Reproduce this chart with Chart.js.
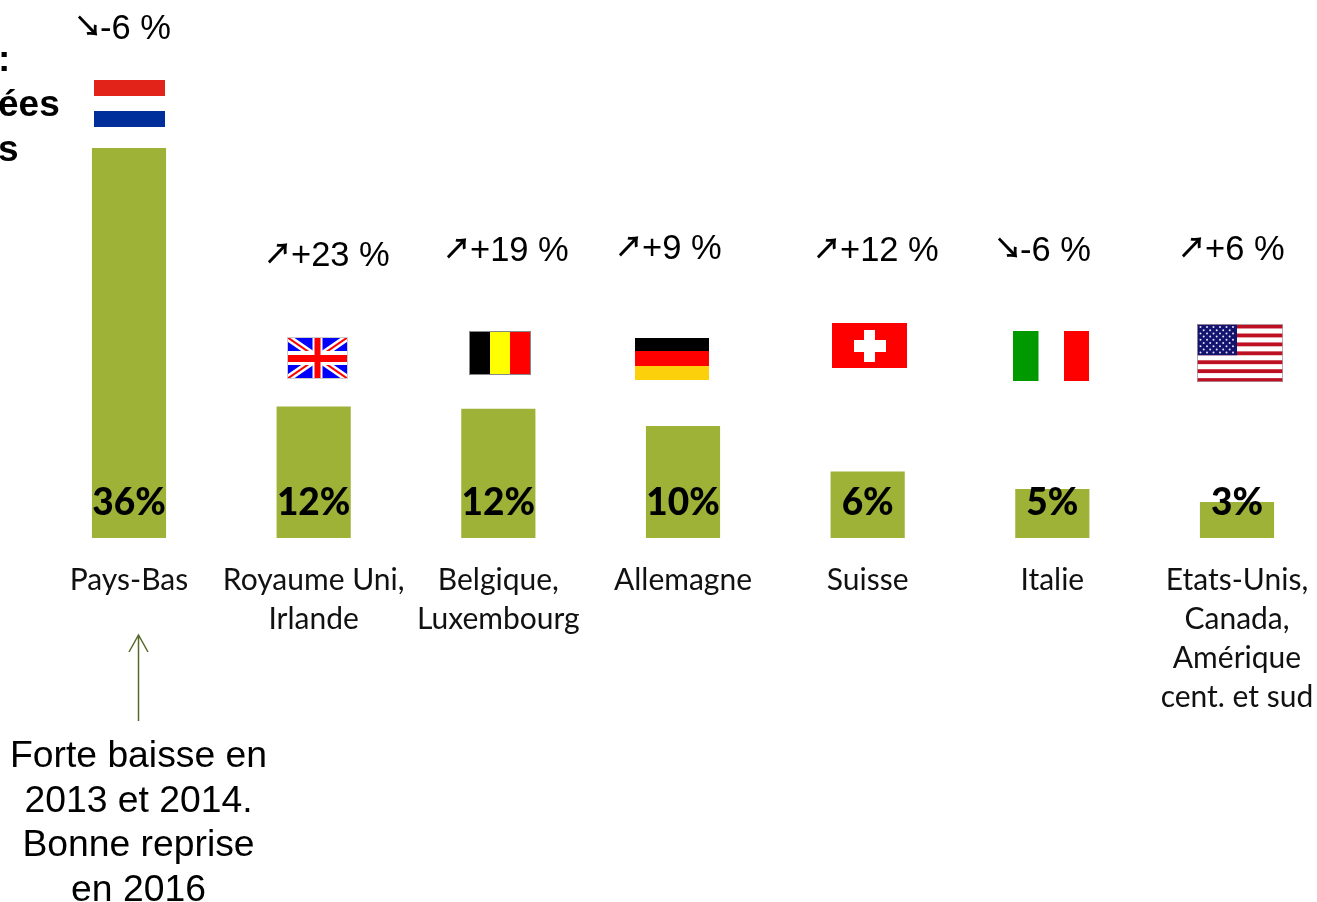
<!DOCTYPE html>
<html lang="fr"><head><meta charset="utf-8">
<style>html,body{margin:0;padding:0;background:#fff;overflow:hidden;width:1317px;height:902px}canvas{display:block}</style>
<script src="https://cdn.jsdelivr.net/npm/chart.js@4"></script></head>
<body><canvas id="c" width="1340" height="902"></canvas>
<script>
const categories=[["Pays-Bas"],["Royaume Uni,","Irlande"],["Belgique,","Luxembourg"],["Allemagne"],["Suisse"],["Italie"],["Etats-Unis,","Canada,","Amérique","cent. et sud"]];
const shares=[36,12.1,11.9,10.3,6.1,4.5,3.3];
const shareLabels=["36%","12%","12%","10%","6%","5%","3%"];
const trendArrows=["↘","↗","↗","↗","↗","↘","↗"];
const trends=["-6 %","+23 %","+19 %","+9 %","+12 %","-6 %","+6 %"];
const flagNames=["nl","uk","be","de","ch","it","us"];
const noteLines=["Forte baisse en","2013 et 2014.","Bonne reprise","en 2016"];
const clippedTitle=[":","ées","s"];

// layout only
const trendPos=[[77,38.5],[267,265.5],[446,260.5],[618,258.5],[816,260.5],[997,260.5],[1181,259.5]];
const flagBox=[[94,80,71,47],[287,337,61,42],[469,331,62,44],[635,338,74,42],[832,323,75,45],[1013,331,76,50],[1197,324,86,58]];

function rect(x,c,l,t,w,h){c&&(x.fillStyle=c);x.fillRect(l,t,w,h);}
const flags={
 nl(x,l,t,w,h){rect(x,'#e2231a',l,t,w,16);rect(x,'#002f9c',l,t+31,w,16);},
 uk(x,l,t,w,h){rect(x,'#0000ff',l,t,w,h);x.save();x.beginPath();x.rect(l,t,w,h);x.clip();
  x.strokeStyle='#fff';x.lineWidth=7;x.beginPath();x.moveTo(l,t);x.lineTo(l+w,t+h);x.moveTo(l+w,t);x.lineTo(l,t+h);x.stroke();
  x.strokeStyle='#f00';x.lineWidth=2;x.beginPath();x.moveTo(l,t);x.lineTo(l+w,t+h);x.moveTo(l+w,t);x.lineTo(l,t+h);x.stroke();x.restore();
  rect(x,'#fff',l+w/2-5,t,10,h);rect(x,'#fff',l,t+h/2-7,w,14);
  rect(x,'#f00',l+w/2-3,t,6,h);rect(x,'#f00',l,t+h/2-3,w,7);
  x.strokeStyle='#ccc';x.lineWidth=1;x.strokeRect(l+.5,t+.5,w-1,h-1);},
 be(x,l,t,w,h){rect(x,'#000',l,t,21,h);rect(x,'#ff0',l+21,t,20,h);rect(x,'#f00',l+41,t,21,h);
  x.strokeStyle='#888';x.lineWidth=1;x.strokeRect(l+.5,t+.5,w-1,h-1);},
 de(x,l,t,w,h){rect(x,'#000',l,t,w,13);rect(x,'#f00',l,t+13,w,15);rect(x,'#fdd00c',l,t+28,w,14);},
 ch(x,l,t,w,h){rect(x,'#f00',l,t,w,h);rect(x,'#fff',l+22,t+17,32,12);rect(x,'#fff',l+32,t+7,11,32);},
 it(x,l,t,w,h){rect(x,'#009a00',l,t,25.5,h);rect(x,'#f00',l+51,t,25,h);},
 us(x,l,t,w,h){rect(x,'#fff',l,t,w,h);const s=h/13;for(let i=0;i<13;i+=2)rect(x,'#bd1022',l,t+i*s+.6,w,s-.6);
  rect(x,'#14146e',l,t,40,7*s);x.fillStyle='#dfe4ff';
  for(let r=0;r<9;r++){const n=r%2?5:6;for(let i=0;i<n;i++){x.beginPath();x.arc(l+3.5+i*6.5+(r%2?3.2:0),t+3+r*3.2,1,0,7);x.fill();}}
  x.strokeStyle='rgba(170,150,160,.8)';x.lineWidth=1;x.strokeRect(l+.5,t+.5,w-1,h-1);}
};
const extras={id:'extras',afterDraw(ch){
 const x=ch.ctx;x.save();
 x.textBaseline='alphabetic';x.textAlign='left';x.fillStyle='#000';
 x.font='bold 37px "Liberation Sans"';
 x.fillText(clippedTitle[0],-2,71);x.fillText(clippedTitle[1],-2,116);
 x.fillText(clippedTitle[2],-2,161);
 flagNames.forEach((n,i)=>{const b=flagBox[i];flags[n](x,b[0],b[1],b[2],b[3]);});
 x.fillStyle='#000';
 trends.forEach((t,i)=>{const p=trendPos[i];
  x.font='bold 28px "Noto Sans CJK JP"';x.textAlign='left';
  const g=x.measureText(trendArrows[i]);
  x.fillText(trendArrows[i],p[0]+11-g.width/2,p[1]-2);
  x.font='34.5px "Liberation Sans"';x.fillText(t,p[0]+(trendArrows[i]==='↘'?23:24),p[1]);});
 const meta=ch.getDatasetMeta(0);
 x.font='900 37px Lato';x.textAlign='center';x.fillStyle='#000';
 meta.data.forEach((b,i)=>x.fillText(shareLabels[i],b.x,515));
 x.font='37.3px "Liberation Sans"';x.textAlign='center';x.fillStyle='#000';
 noteLines.forEach((l,i)=>x.fillText(l,138.5,767+i*44.6));
 x.strokeStyle='#57682b';x.lineWidth=1.5;x.beginPath();
 x.moveTo(138.5,721);x.lineTo(138.5,635);x.moveTo(129,652);x.lineTo(138.5,635);x.lineTo(148,652);x.stroke();
 x.restore();
}};
new Chart(document.getElementById('c'),{
 type:'bar',
 data:{labels:categories,datasets:[{data:shares,backgroundColor:'#9db236',barThickness:73.5,borderWidth:0}]},
 plugins:[extras],
 options:{responsive:false,animation:false,
  layout:{padding:{left:36.67,right:10.67,top:148,bottom:0}},
  plugins:{legend:{display:false},tooltip:{enabled:false}},
  scales:{
   x:{grid:{display:false},border:{display:false},
      afterFit(s){s.height=364;},
      ticks:{autoSkip:false,maxRotation:0,minRotation:0,padding:15,color:'#111',font:{family:'Lato',size:30,lineHeight:1.3}}},
   y:{display:false,min:0,max:36}
  }}
});
</script></body></html>
